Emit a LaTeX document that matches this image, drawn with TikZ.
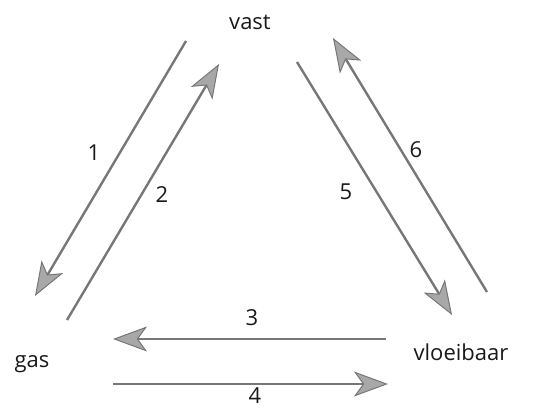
\documentclass[tikz,border=0pt]{standalone}
\usepackage{fontspec}
\setmainfont{Open Sans}
\usetikzlibrary{arrows.meta}
\definecolor{linegray}{HTML}{777777}
\definecolor{tipgray}{HTML}{A8A8A8}
\begin{document}
\begin{tikzpicture}[x=1pt, y=-1pt,
  every node/.style={font=\fontsize{22}{26}\selectfont, text=black!90},
  phase/.style={anchor=base},
  num/.style={inner sep=1pt},
  trans/.style={draw=linegray, line width=2.4pt,
    -{Stealth[length=34pt, width=25pt, inset=9pt, fill=tipgray, line width=1pt]}}]
\useasboundingbox (0,0) rectangle (541,408);

\node[phase] (vast) at (250,29) {vast};
\node[phase] (gas) at (32,367) {gas};
\node[phase] (vloeibaar) at (461,360) {vloeibaar};

\coordinate (s1) at (186,41);  \coordinate (e1) at (35,296);
\coordinate (s2) at (67,320);  \coordinate (e2) at (219,64);
\coordinate (s5) at (297,62);  \coordinate (e5) at (452,315);
\coordinate (s6) at (487,292); \coordinate (e6) at (333,38);
\coordinate (s3) at (386,339); \coordinate (e3) at (113,339);
\coordinate (s4) at (113,384); \coordinate (e4) at (388,384);

\draw[trans] (s1) -- (e1);
\draw[trans] (s2) -- (e2);
\draw[trans] (s5) -- (e5);
\draw[trans] (s6) -- (e6);
\draw[trans] (s3) -- (e3);
\draw[trans] (s4) -- (e4);

\node[num] (n1) at (94,153) {1};
\node[num] (n2) at (162,195) {2};
\node[num] (n3) at (252,318) {3};
\node[num] (n4) at (255,396) {4};
\node[num] (n5) at (346,192) {5};
\node[num] (n6) at (416,150) {6};
\end{tikzpicture}
\end{document}
